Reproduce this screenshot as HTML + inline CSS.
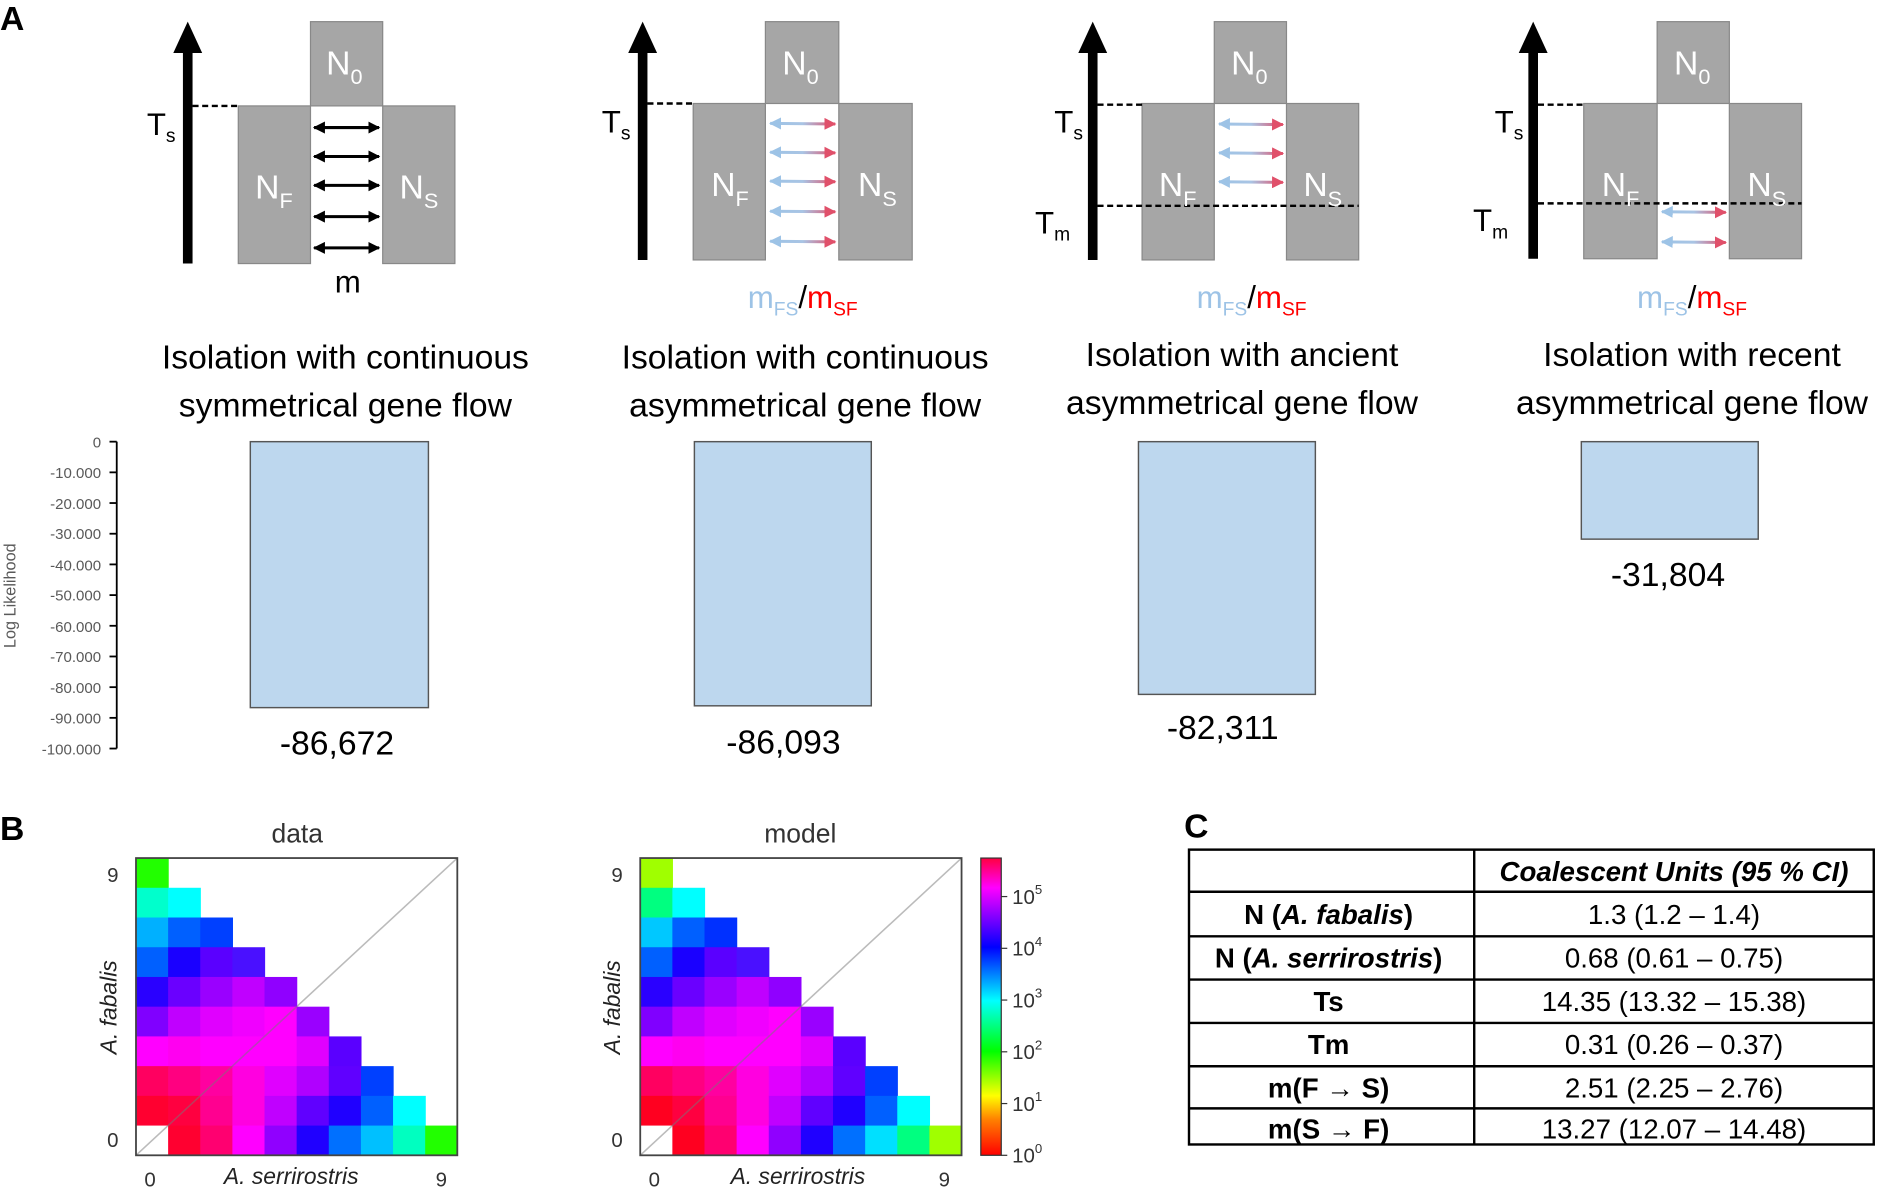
<!DOCTYPE html>
<html><head><meta charset="utf-8"><style>html,body{margin:0;padding:0;background:#fff}svg{display:block}text{font-family:"Liberation Sans",sans-serif}</style></head><body>
<svg width="1887" height="1189" viewBox="0 0 1568 988" xmlns="http://www.w3.org/2000/svg">
<defs>
<linearGradient id="ar" x1="0" x2="1"><stop offset="0" stop-color="#9dc3e6"/><stop offset="0.5" stop-color="#a9c4e4"/><stop offset="1" stop-color="#e0506a"/></linearGradient>
<linearGradient id="cb" x1="0" y1="1" x2="0" y2="0"><stop offset="0" stop-color="#ff0000"/><stop offset="0.12" stop-color="#ff8000"/><stop offset="0.2" stop-color="#ffff00"/><stop offset="0.35" stop-color="#00ff00"/><stop offset="0.52" stop-color="#00ffff"/><stop offset="0.7" stop-color="#0000ff"/><stop offset="0.8" stop-color="#8000ff"/><stop offset="0.9" stop-color="#ff00ff"/><stop offset="1" stop-color="#ff0040"/></linearGradient>
<marker id="h" viewBox="0 0 10 10" refX="9" refY="5" markerWidth="4" markerHeight="4" orient="auto-start-reverse"><path d="M0,0L10,5L0,10z" fill="#000"/></marker>
<marker id="hb" viewBox="0 0 10 10" refX="9" refY="5" markerWidth="4" markerHeight="4" orient="auto-start-reverse"><path d="M0,0L10,5L0,10z" fill="#9dc3e6"/></marker>
<marker id="hr" viewBox="0 0 10 10" refX="9" refY="5" markerWidth="4" markerHeight="4" orient="auto-start-reverse"><path d="M0,0L10,5L0,10z" fill="#e0506a"/></marker>
</defs>
<text x="0" y="25" font-size="28" font-weight="bold">A</text>
<text x="0" y="698" font-size="28" font-weight="bold">B</text>
<text x="984" y="696" font-size="28" font-weight="bold">C</text>

<!-- Diagram 1 -->
<g>
<rect x="258" y="18" width="60" height="70" fill="#a6a6a6" stroke="#888"/>
<rect x="198" y="88" width="60" height="131" fill="#a6a6a6" stroke="#888"/>
<rect x="318" y="88" width="60" height="131" fill="#a6a6a6" stroke="#888"/>
<line x1="156" y1="219" x2="156" y2="40" stroke="#000" stroke-width="8"/>
<path d="M144,44L156,18L168,44z"/>
<line x1="160" y1="88" x2="198" y2="88" stroke="#000" stroke-width="2" stroke-dasharray="5,3"/>
<text x="122" y="112" font-size="26">T<tspan font-size="16" dy="6">s</tspan></text>
<text x="271" y="62" font-size="28" fill="#fff">N<tspan font-size="18" dy="8">0</tspan></text>
<text x="212" y="165" font-size="28" fill="#fff">N<tspan font-size="18" dy="8">F</tspan></text>
<text x="332" y="165" font-size="28" fill="#fff">N<tspan font-size="18" dy="8">S</tspan></text>
<g stroke="#000" stroke-width="2.5" marker-start="url(#h)" marker-end="url(#h)">
<line x1="261" y1="106" x2="315" y2="106"/><line x1="261" y1="130" x2="315" y2="130"/><line x1="261" y1="154" x2="315" y2="154"/><line x1="261" y1="180" x2="315" y2="180"/><line x1="261" y1="206" x2="315" y2="206"/>
</g>
<text x="289" y="243" font-size="26" text-anchor="middle">m</text>
</g>

<!-- Diagram 2 -->
<g>
<rect x="636" y="18" width="61" height="68" fill="#a6a6a6" stroke="#888"/>
<rect x="576" y="86" width="60" height="130" fill="#a6a6a6" stroke="#888"/>
<rect x="697" y="86" width="61" height="130" fill="#a6a6a6" stroke="#888"/>
<line x1="534" y1="216" x2="534" y2="40" stroke="#000" stroke-width="8"/>
<path d="M522,44L534,18L546,44z"/>
<line x1="538" y1="86" x2="576" y2="86" stroke="#000" stroke-width="2" stroke-dasharray="5,3"/>
<text x="500" y="110" font-size="26">T<tspan font-size="16" dy="6">s</tspan></text>
<text x="650" y="62" font-size="28" fill="#fff">N<tspan font-size="18" dy="8">0</tspan></text>
<text x="591" y="163" font-size="28" fill="#fff">N<tspan font-size="18" dy="8">F</tspan></text>
<text x="713" y="163" font-size="28" fill="#fff">N<tspan font-size="18" dy="8">S</tspan></text>
<g fill="none" stroke-width="2.5">
<line x1="640" y1="102.5" x2="694" y2="103" stroke="url(#ar)" marker-start="url(#hb)" marker-end="url(#hr)"/>
<line x1="640" y1="126.5" x2="694" y2="127" stroke="url(#ar)" marker-start="url(#hb)" marker-end="url(#hr)"/>
<line x1="640" y1="150.5" x2="694" y2="151" stroke="url(#ar)" marker-start="url(#hb)" marker-end="url(#hr)"/>
<line x1="640" y1="175.5" x2="694" y2="176" stroke="url(#ar)" marker-start="url(#hb)" marker-end="url(#hr)"/>
<line x1="640" y1="200.5" x2="694" y2="201" stroke="url(#ar)" marker-start="url(#hb)" marker-end="url(#hr)"/>
</g>
<text x="667" y="256" font-size="26" text-anchor="middle"><tspan fill="#9dc3e6">m<tspan font-size="16" dy="6">FS</tspan></tspan><tspan dy="-6">/</tspan><tspan fill="#f00">m<tspan font-size="16" dy="6">SF</tspan></tspan></text>
</g>

<!-- Diagram 3 -->
<g>
<rect x="1009" y="18" width="60" height="68" fill="#a6a6a6" stroke="#888"/>
<rect x="949" y="86" width="60" height="130" fill="#a6a6a6" stroke="#888"/>
<rect x="1069" y="86" width="60" height="130" fill="#a6a6a6" stroke="#888"/>
<line x1="908" y1="216" x2="908" y2="40" stroke="#000" stroke-width="8"/>
<path d="M896,44L908,18L920,44z"/>
<line x1="912" y1="87" x2="949" y2="87" stroke="#000" stroke-width="2" stroke-dasharray="5,3"/>
<line x1="912" y1="171" x2="1129" y2="171" stroke="#000" stroke-width="2" stroke-dasharray="5,3"/>
<text x="876" y="110" font-size="26">T<tspan font-size="16" dy="6">s</tspan></text>
<text x="860" y="194" font-size="26">T<tspan font-size="16" dy="6">m</tspan></text>
<text x="1023" y="62" font-size="28" fill="#fff">N<tspan font-size="18" dy="8">0</tspan></text>
<text x="963" y="163" font-size="28" fill="#fff">N<tspan font-size="18" dy="8">F</tspan></text>
<text x="1083" y="163" font-size="28" fill="#fff">N<tspan font-size="18" dy="8">S</tspan></text>
<g stroke-width="2.5">
<line x1="1013" y1="103" x2="1066" y2="103.5" stroke="url(#ar)" marker-start="url(#hb)" marker-end="url(#hr)"/>
<line x1="1013" y1="127" x2="1066" y2="127.5" stroke="url(#ar)" marker-start="url(#hb)" marker-end="url(#hr)"/>
<line x1="1013" y1="151" x2="1066" y2="151.5" stroke="url(#ar)" marker-start="url(#hb)" marker-end="url(#hr)"/>
</g>
<text x="1040" y="256" font-size="26" text-anchor="middle"><tspan fill="#9dc3e6">m<tspan font-size="16" dy="6">FS</tspan></tspan><tspan dy="-6">/</tspan><tspan fill="#f00">m<tspan font-size="16" dy="6">SF</tspan></tspan></text>
</g>

<!-- Diagram 4 -->
<g>
<rect x="1377" y="18" width="60" height="68" fill="#a6a6a6" stroke="#888"/>
<rect x="1316" y="86" width="61" height="129" fill="#a6a6a6" stroke="#888"/>
<rect x="1437" y="86" width="60" height="129" fill="#a6a6a6" stroke="#888"/>
<line x1="1274" y1="215" x2="1274" y2="40" stroke="#000" stroke-width="8"/>
<path d="M1262,44L1274,18L1286,44z"/>
<line x1="1278" y1="87" x2="1316" y2="87" stroke="#000" stroke-width="2" stroke-dasharray="5,3"/>
<line x1="1278" y1="169" x2="1497" y2="169" stroke="#000" stroke-width="2" stroke-dasharray="5,3"/>
<text x="1242" y="110" font-size="26">T<tspan font-size="16" dy="6">s</tspan></text>
<text x="1224" y="192" font-size="26">T<tspan font-size="16" dy="6">m</tspan></text>
<text x="1391" y="62" font-size="28" fill="#fff">N<tspan font-size="18" dy="8">0</tspan></text>
<text x="1331" y="163" font-size="28" fill="#fff">N<tspan font-size="18" dy="8">F</tspan></text>
<text x="1452" y="163" font-size="28" fill="#fff">N<tspan font-size="18" dy="8">S</tspan></text>
<g stroke-width="2.5">
<line x1="1381" y1="176" x2="1434" y2="176.5" stroke="url(#ar)" marker-start="url(#hb)" marker-end="url(#hr)"/>
<line x1="1381" y1="201" x2="1434" y2="201.5" stroke="url(#ar)" marker-start="url(#hb)" marker-end="url(#hr)"/>
</g>
<text x="1406" y="256" font-size="26" text-anchor="middle"><tspan fill="#9dc3e6">m<tspan font-size="16" dy="6">FS</tspan></tspan><tspan dy="-6">/</tspan><tspan fill="#f00">m<tspan font-size="16" dy="6">SF</tspan></tspan></text>
</g>

<!-- titles -->
<g font-size="28" text-anchor="middle">
<text x="287" y="306">Isolation with continuous</text><text x="287" y="346">symmetrical gene flow</text>
<text x="669" y="306">Isolation with continuous</text><text x="669" y="346">asymmetrical gene flow</text>
<text x="1032" y="304">Isolation with ancient</text><text x="1032" y="344">asymmetrical gene flow</text>
<text x="1406" y="304">Isolation with recent</text><text x="1406" y="344">asymmetrical gene flow</text>
</g>

<!-- bar chart -->
<g>
<line x1="97" y1="367" x2="97" y2="622" stroke="#000" stroke-width="1.5"/>
<g stroke="#000" stroke-width="1.5">
<line x1="91" y1="367" x2="97" y2="367"/><line x1="91" y1="392.5" x2="97" y2="392.5"/><line x1="91" y1="418" x2="97" y2="418"/><line x1="91" y1="443.5" x2="97" y2="443.5"/><line x1="91" y1="469" x2="97" y2="469"/><line x1="91" y1="494.5" x2="97" y2="494.5"/><line x1="91" y1="520" x2="97" y2="520"/><line x1="91" y1="545.5" x2="97" y2="545.5"/><line x1="91" y1="571" x2="97" y2="571"/><line x1="91" y1="596.5" x2="97" y2="596.5"/><line x1="91" y1="622" x2="97" y2="622"/>
</g>
<g font-size="12.5" fill="#595959" text-anchor="end">
<text x="84" y="372">0</text><text x="84" y="397">-10.000</text><text x="84" y="423">-20.000</text><text x="84" y="448">-30.000</text><text x="84" y="474">-40.000</text><text x="84" y="499">-50.000</text><text x="84" y="525">-60.000</text><text x="84" y="550">-70.000</text><text x="84" y="576">-80.000</text><text x="84" y="601">-90.000</text><text x="84" y="627">-100.000</text>
</g>
<text transform="translate(13,495) rotate(-90)" font-size="13.5" fill="#595959" text-anchor="middle">Log Likelihood</text>
<g fill="#bdd7ee" stroke="#555" stroke-width="1.2">
<rect x="208" y="367" width="148" height="221"/>
<rect x="577" y="367" width="147" height="219.5"/>
<rect x="946" y="367" width="147" height="210"/>
<rect x="1314" y="367" width="147" height="81"/>
</g>
<g font-size="28" text-anchor="middle">
<text x="280" y="627">-86,672</text><text x="651" y="626">-86,093</text><text x="1016" y="614">-82,311</text><text x="1386" y="487">-31,804</text>
</g>
</g>

<!-- heatmaps -->
<text x="247" y="700" font-size="22" text-anchor="middle" fill="#333">data</text>
<text x="665" y="700" font-size="22" text-anchor="middle" fill="#333">model</text>
<g font-size="17" fill="#333">
<text x="89" y="733">9</text><text x="89" y="953">0</text><text x="120" y="986">0</text><text x="362" y="986">9</text>
<text x="508" y="733">9</text><text x="508" y="953">0</text><text x="539" y="986">0</text><text x="780" y="986">9</text>
</g>
<g font-size="19" font-style="italic" fill="#222" text-anchor="middle">
<text x="242" y="984">A. serrirostris</text><text x="663" y="984">A. serrirostris</text>
<text transform="translate(97,837) rotate(-90)">A. fabalis</text>
<text transform="translate(515,837) rotate(-90)">A. fabalis</text>
</g>
<rect x="815" y="713" width="17" height="247" fill="url(#cb)" stroke="#333"/>
<g stroke="#333" stroke-width="1">
<line x1="832" y1="960" x2="837" y2="960"/><line x1="832" y1="917" x2="837" y2="917"/><line x1="832" y1="874" x2="837" y2="874"/><line x1="832" y1="831" x2="837" y2="831"/><line x1="832" y1="788" x2="837" y2="788"/><line x1="832" y1="745" x2="837" y2="745"/>
</g>
<g font-size="17" fill="#333">
<text x="841" y="966">10<tspan font-size="11" dy="-8">0</tspan></text>
<text x="841" y="923">10<tspan font-size="11" dy="-8">1</tspan></text>
<text x="841" y="880">10<tspan font-size="11" dy="-8">2</tspan></text>
<text x="841" y="837">10<tspan font-size="11" dy="-8">3</tspan></text>
<text x="841" y="794">10<tspan font-size="11" dy="-8">4</tspan></text>
<text x="841" y="751">10<tspan font-size="11" dy="-8">5</tspan></text>
</g>

<!-- table -->
<g>
<rect x="988" y="706" width="569" height="245" fill="none" stroke="#000" stroke-width="2"/>
<line x1="1225" y1="706" x2="1225" y2="951" stroke="#000" stroke-width="2"/>
<g stroke="#000" stroke-width="2">
<line x1="988" y1="741" x2="1557" y2="741"/><line x1="988" y1="778" x2="1557" y2="778"/><line x1="988" y1="814" x2="1557" y2="814"/><line x1="988" y1="850" x2="1557" y2="850"/><line x1="988" y1="886" x2="1557" y2="886"/><line x1="988" y1="921" x2="1557" y2="921"/>
</g>
<text x="1391" y="732" font-size="23" font-weight="bold" font-style="italic" text-anchor="middle">Coalescent Units (95 % CI)</text>
<g font-size="23" font-weight="bold" text-anchor="middle">
<text x="1104" y="768">N (<tspan font-style="italic">A. fabalis</tspan>)</text>
<text x="1104" y="804">N (<tspan font-style="italic">A. serrirostris</tspan>)</text>
<text x="1104" y="840">Ts</text><text x="1104" y="876">Tm</text>
<text x="1104" y="912">m(F → S)</text><text x="1104" y="946">m(S → F)</text>
</g>
<g font-size="23" text-anchor="middle">
<text x="1391" y="768">1.3 (1.2 – 1.4)</text><text x="1391" y="804">0.68 (0.61 – 0.75)</text><text x="1391" y="840">14.35 (13.32 – 15.38)</text><text x="1391" y="876">0.31 (0.26 – 0.37)</text><text x="1391" y="912">2.51 (2.25 – 2.76)</text><text x="1391" y="946">13.27 (12.07 – 14.48)</text>
</g>
</g>
</svg>
<script>
(function(){
var NS="http://www.w3.org/2000/svg";
var D=[
["#22ff00"],
["#00ffcc","#00ffff"],
["#00b0ff","#0060ff","#0040ff"],
["#0060ff","#1a00ff","#5a00ff","#4a10ff"],
["#2a00ff","#6a00ff","#9a00ff","#c000ff","#9000ff"],
["#8000ff","#c000ff","#e000ff","#f000ff","#ff00ff","#9a00ff"],
["#ff00ff","#ff00f0","#ff00ff","#ff00ff","#ff00ff","#e000ff","#5a00ff"],
["#ff0060","#ff0080","#ff00a0","#ff00e0","#e000ff","#b000ff","#6000ff","#0040ff"],
["#ff0030","#ff0040","#ff0090","#ff00e0","#c000ff","#6000ff","#2000ff","#0060ff","#00ffff"],
["#fff","#ff0030","#ff0070","#ff00ff","#9000ff","#2000ff","#0070ff","#00c0ff","#00ffc0","#22ff00"]];
var M=JSON.parse(JSON.stringify(D));
M[0][0]="#a0ff00";M[1][0]="#00ff80";M[2][0]="#00c8ff";M[2][2]="#0030ff";M[9][8]="#00ff80";M[9][9]="#a0ff00";M[9][1]="#ff0020";M[8][0]="#ff0020";M[9][7]="#00e0ff";
var svg=document.querySelector("svg");
function draw(data,x0){
 var y0=713,w=26.7,h=24.7;
 var g=document.createElementNS(NS,"g");
 for(var r=0;r<10;r++)for(var c=0;c<data[r].length;c++){
  var e=document.createElementNS(NS,"rect");
  e.setAttribute("x",x0+c*w);e.setAttribute("y",y0+r*h);e.setAttribute("width",w+0.5);e.setAttribute("height",h+0.5);e.setAttribute("fill",data[r][c]);g.appendChild(e);}
 var l=document.createElementNS(NS,"line");
 l.setAttribute("x1",x0);l.setAttribute("y1",960);l.setAttribute("x2",x0+267);l.setAttribute("y2",713);l.setAttribute("stroke","rgba(120,120,120,0.5)");l.setAttribute("stroke-width","1.3");g.appendChild(l);
 var b=document.createElementNS(NS,"rect");
 b.setAttribute("x",x0);b.setAttribute("y",713);b.setAttribute("width",267);b.setAttribute("height",247);b.setAttribute("fill","none");b.setAttribute("stroke","#444");b.setAttribute("stroke-width","1.5");g.appendChild(b);
 svg.appendChild(g);}
draw(D,113);draw(M,532);
})();
</script>
</body></html>
